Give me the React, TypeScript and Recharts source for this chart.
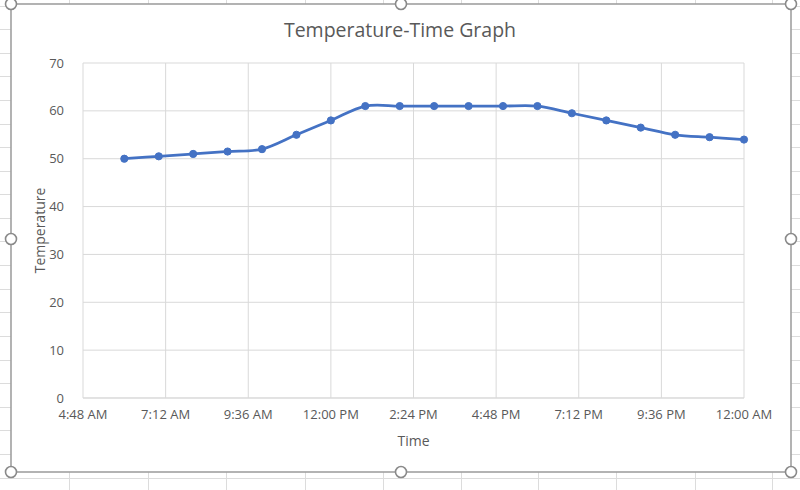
import React from 'react';
import { LineChart, Line, XAxis, YAxis, CartesianGrid } from 'recharts';

const hours = [6, 7, 8, 9, 10, 11, 12, 13, 14, 15, 16, 17, 18, 19, 20, 21, 22, 23, 24];
const temperatures = [50, 50.5, 51, 51.5, 52, 55, 58, 61, 61, 61, 61, 61, 61, 59.5, 58, 56.5, 55, 54.5, 54];
const xTicks = [4.8, 7.2, 9.6, 12, 14.4, 16.8, 19.2, 21.6, 24];
const xTickLabels = ['4:48 AM', '7:12 AM', '9:36 AM', '12:00 PM', '2:24 PM', '4:48 PM', '7:12 PM', '9:36 PM', '12:00 AM'];
const yTicks = [0, 10, 20, 30, 40, 50, 60, 70];

const data = hours.map((h, i) => ({ hour: h, temp: temperatures[i] }));

const FONT = '"Open Sans", sans-serif';
const TEXT = '#595959';

// Excel-like smoothed line (Catmull-Rom spline)
const smoothCurve: any = (context: any) => {
  let pts: number[][] = [];
  return {
    areaStart() {},
    areaEnd() {},
    lineStart() { pts = []; },
    point(x: number, y: number) { pts.push([+x, +y]); },
    lineEnd() {
      const n = pts.length;
      if (!n) return;
      context.moveTo(pts[0][0], pts[0][1]);
      for (let i = 0; i < n - 1; i++) {
        const p0 = pts[Math.max(i - 1, 0)];
        const p1 = pts[i];
        const p2 = pts[i + 1];
        const p3 = pts[Math.min(i + 2, n - 1)];
        const c1x = p1[0] + (p2[0] - p0[0]) / 6;
        const c1y = p1[1] + (p2[1] - p0[1]) / 6;
        const c2x = p2[0] - (p3[0] - p1[0]) / 6;
        const c2y = p2[1] - (p3[1] - p1[1]) / 6;
        context.bezierCurveTo(c1x, c1y, c2x, c2y, p2[0], p2[1]);
      }
    },
  };
};

const Decorations = () => {
  const cols = [69, 148, 226, 305, 383, 461, 538, 616, 695, 772];
  const rows: number[] = [];
  for (let y = 5.5; y < 490; y += 23.6) rows.push(Math.round(y) + 0.5);
  const handles = [
    [11, 4], [401, 4], [791, 4],
    [11, 239], [791, 239],
    [11, 472], [401, 472], [791, 472],
  ];
  return (
    <svg width={800} height={490} style={{ position: 'absolute', left: 0, top: 0 }}>
      <rect x={0} y={0} width={800} height={490} fill="#ffffff" />
      {cols.map((x) => (
        <line key={'c' + x} x1={x + 0.5} x2={x + 0.5} y1={0} y2={490} stroke="#dcdcdc" strokeWidth={1} />
      ))}
      {rows.map((y) => (
        <line key={'r' + y} x1={0} x2={800} y1={y} y2={y} stroke="#dcdcdc" strokeWidth={1} />
      ))}
      <rect x={11} y={4} width={780} height={468} fill="#ffffff" stroke="#a0a0a0" strokeWidth={1.6} />
      {handles.map(([x, y]) => (
        <circle key={x + '-' + y} cx={x} cy={y} r={5.5} fill="#ffffff" stroke="#8a8a8a" strokeWidth={1.6} />
      ))}
    </svg>
  );
};

export default function App() {
  return (
    <div style={{ position: 'fixed', left: 0, top: 0, width: 800, height: 490, overflow: 'hidden' }}>
      <Decorations />
      <div style={{ position: 'absolute', left: 0, top: 0 }}>
        <LineChart width={800} height={490} data={data} margin={{ top: 63, right: 56, bottom: 0, left: 13 }}>
          <text x={400} y={37} textAnchor="middle" fontFamily={FONT} fontSize={19.5} fill={TEXT}>
            Temperature-Time Graph
          </text>
          <CartesianGrid stroke="#d9d9d9" strokeWidth={1} />
          <XAxis
            dataKey="hour"
            type="number"
            domain={[4.8, 24]}
            ticks={xTicks}
            interval={0}
            tickFormatter={(v: number) => xTickLabels[xTicks.findIndex((t) => Math.abs(t - v) < 1e-6)]}
            tickLine={false}
            axisLine={{ stroke: '#d9d9d9' }}
            tick={{ fill: TEXT, fontSize: 13, fontFamily: FONT }}
            tickMargin={6}
            label={{ value: 'Time', position: 'insideBottom', offset: 0, dy: -44, fill: TEXT, fontSize: 14, fontFamily: FONT }}
            height={92}
          />
          <YAxis
            type="number"
            domain={[0, 70]}
            ticks={yTicks}
            interval={0}
            tickLine={false}
            axisLine={false}
            tick={{ fill: TEXT, fontSize: 13, fontFamily: FONT }}
            tickMargin={13}
            width={70}
            label={{ value: 'Temperature', angle: -90, position: 'insideLeft', offset: 0, dx: 27, fill: TEXT, fontSize: 14, fontFamily: FONT, style: { textAnchor: 'middle' } }}
          />
          <Line
            dataKey="temp"
            type={smoothCurve}
            stroke="#4472C4"
            strokeWidth={2.8}
            dot={{ r: 3.6, fill: '#4472C4', stroke: '#4472C4', strokeWidth: 1 }}
            activeDot={false}
            isAnimationActive={false}
          />
        </LineChart>
      </div>
    </div>
  );
}
